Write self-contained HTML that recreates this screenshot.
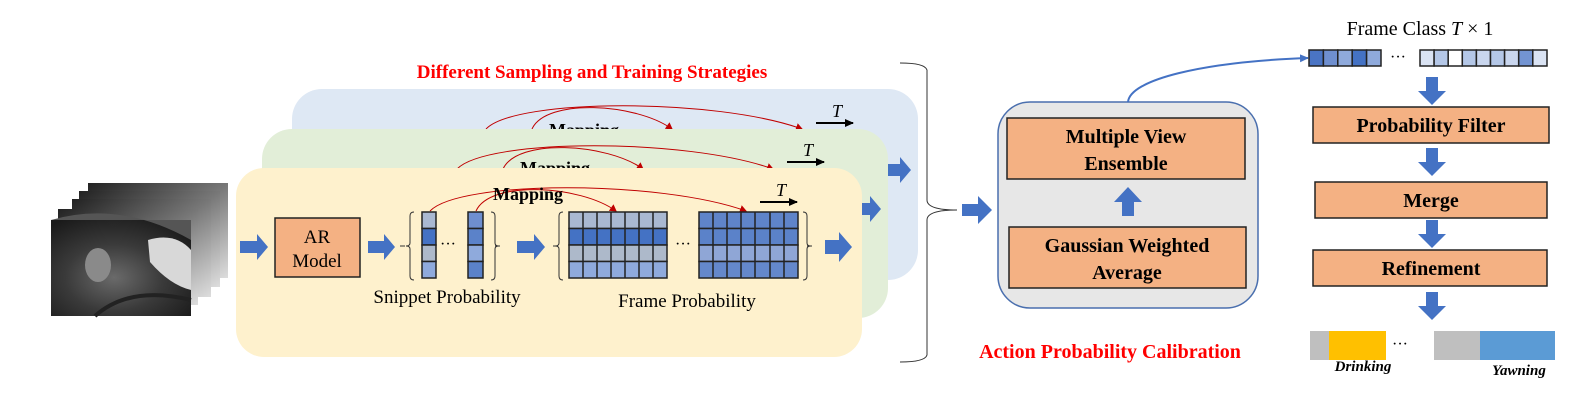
<!DOCTYPE html>
<html><head><meta charset="utf-8"><style>
html,body{margin:0;padding:0;background:#fff;}
svg{display:block;font-family:"Liberation Serif",serif;}
</style></head><body>
<svg width="1590" height="403" viewBox="0 0 1590 403" xmlns="http://www.w3.org/2000/svg">
<defs>
<marker id="ra" markerWidth="8" markerHeight="8" refX="6" refY="4" orient="auto" markerUnits="userSpaceOnUse"><path d="M0,0 L7,4 L0,8 z" fill="#c00000"/></marker>
<marker id="ka" markerWidth="10" markerHeight="10" refX="8" refY="5" orient="auto" markerUnits="userSpaceOnUse"><path d="M0,1 L9,5 L0,9 z" fill="#000"/></marker>
<marker id="ba" markerWidth="10" markerHeight="10" refX="8" refY="5" orient="auto" markerUnits="userSpaceOnUse"><path d="M0,1 L9,5 L0,9 z" fill="#4472c4"/></marker>
<radialGradient id="img" cx="0.45" cy="0.6" r="0.7"><stop offset="0" stop-color="#6a6a6a"/><stop offset="0.5" stop-color="#3a3a3a"/><stop offset="1" stop-color="#1a1a1a"/></radialGradient>
<linearGradient id="img2" x1="0" y1="0" x2="1" y2="1"><stop offset="0" stop-color="#222"/><stop offset="0.5" stop-color="#777"/><stop offset="1" stop-color="#ddd"/></linearGradient>
</defs>

<!-- video frames -->
<rect x="88" y="183" width="140" height="95" fill="url(#img2)"/>
<rect x="79" y="191" width="141" height="96" fill="url(#img2)"/>
<rect x="72" y="199" width="139" height="98" fill="url(#img2)"/>
<rect x="58" y="209" width="140" height="96" fill="url(#img2)"/>
<rect x="51" y="220" width="140" height="96" fill="url(#img)"/>
<path d="M51,220 Q120,200 191,240 L191,220 z" fill="#555"/>
<ellipse cx="98" cy="265" rx="13" ry="17" fill="#8a8a8a"/>
<path d="M148,240 Q175,232 191,250 L191,290 Q170,285 150,262 z" fill="#d8d8d8"/>
<path d="M95,316 Q130,285 191,300" stroke="#222" stroke-width="4" fill="none"/>

<!-- blue panel -->
<rect x="292" y="89" width="626" height="191" rx="30" fill="#dee8f4"/>
<g transform="translate(56,-82)">
<path d="M430,211 C460,180 660,180 746,211" stroke="#c00000" stroke-width="1" fill="none" marker-end="url(#ra)"/>
<path d="M476,211 C490,180 580,185 616,211" stroke="#c00000" stroke-width="1" fill="none" marker-end="url(#ra)"/>
</g>
<text x="584" y="136" font-size="18" font-weight="bold" text-anchor="middle">Mapping</text>
<g transform="translate(56,-79)">
<line x1="760" y1="202" x2="797" y2="202" stroke="#000" stroke-width="2" marker-end="url(#ka)"/>
<text x="776" y="196" font-size="18" font-style="italic">T</text>
</g>
<path d="M888,164 h12 v-7 l11,13 l-11,13 v-7 h-12 z" fill="#4472c4"/>

<!-- green panel -->
<rect x="262" y="129" width="626" height="189" rx="30" fill="#e2eed8"/>
<g transform="translate(27,-42)">
<path d="M430,211 C460,180 660,180 746,211" stroke="#c00000" stroke-width="1" fill="none" marker-end="url(#ra)"/>
<path d="M476,211 C490,180 580,185 616,211" stroke="#c00000" stroke-width="1" fill="none" marker-end="url(#ra)"/>
</g>
<text x="555" y="174" font-size="18" font-weight="bold" text-anchor="middle">Mapping</text>
<g transform="translate(27,-40)">
<line x1="760" y1="202" x2="797" y2="202" stroke="#000" stroke-width="2" marker-end="url(#ka)"/>
<text x="776" y="196" font-size="18" font-style="italic">T</text>
</g>
<path d="M862,203 h8 v-7 l11,13 l-11,13 v-7 h-8 z" fill="#4472c4"/>

<!-- yellow panel -->
<rect x="236" y="168" width="626" height="189" rx="28" fill="#fef1cd"/>
<path d="M430,211 C460,180 660,180 746,211" stroke="#c00000" stroke-width="1" fill="none" marker-end="url(#ra)"/>
<path d="M476,211 C490,180 580,185 616,211" stroke="#c00000" stroke-width="1" fill="none" marker-end="url(#ra)"/>
<text x="528" y="200" font-size="18" font-weight="bold" text-anchor="middle">Mapping</text>
<line x1="760" y1="202" x2="797" y2="202" stroke="#000" stroke-width="2" marker-end="url(#ka)"/>
<text x="776" y="196" font-size="18" font-style="italic">T</text>

<path d="M240,241 h17 v-7 l11,13 l-11,13 v-7 h-17 z" fill="#4472c4"/>
<rect x="275" y="218" width="85" height="59" fill="#f4b183" stroke="#222" stroke-width="1.5"/>
<text x="317" y="243" font-size="19" text-anchor="middle">AR</text>
<text x="317" y="267" font-size="19" text-anchor="middle">Model</text>
<path d="M368,241 h16 v-7 l11,13 l-11,13 v-7 h-16 z" fill="#4472c4"/>

<!-- snippet columns -->
<path d="M400,246 h5 M414,212 q-4,0 -4,4 v27 q0,3 -4,3 q4,0 4,3 v27 q0,4 4,4" stroke="#333" fill="none"/>
<path d="M500,246 h-5 M491,212 q4,0 4,4 v27 q0,3 4,3 q-4,0 -4,3 v27 q0,4 -4,4" stroke="#333" fill="none"/>
<g stroke="#222" stroke-width="1.5">
<rect x="422" y="212" width="14" height="16.5" fill="#a9b8d1"/>
<rect x="422" y="228.5" width="14" height="16.5" fill="#4472c4"/>
<rect x="422" y="245" width="14" height="16.5" fill="#adb9ca"/>
<rect x="422" y="261.5" width="14" height="16.5" fill="#8faadc"/>
<rect x="468" y="212" width="15" height="16.5" fill="#6f8fcf"/>
<rect x="468" y="228.5" width="15" height="16.5" fill="#5b82c9"/>
<rect x="468" y="245" width="15" height="16.5" fill="#8faadc"/>
<rect x="468" y="261.5" width="15" height="16.5" fill="#5b82c9"/>
</g>
<text x="448" y="249" font-size="16" text-anchor="middle">···</text>
<path d="M517,241 h17 v-7 l11,13 l-11,13 v-7 h-17 z" fill="#4472c4"/>

<!-- frame grids -->
<path d="M553,246 h5 M563,212 q-4,0 -4,4 v27 q0,3 -4,3 q4,0 4,3 v27 q0,4 4,4" stroke="#333" fill="none"/>
<path d="M812,246 h-5 M803,212 q4,0 4,4 v27 q0,3 4,3 q-4,0 -4,3 v27 q0,4 -4,4" stroke="#333" fill="none"/>
<g stroke="#222" stroke-width="1.5">
<rect x="569" y="212" width="98" height="16.5" fill="#a9b8d1"/>
<rect x="569" y="228.5" width="98" height="16.5" fill="#4472c4"/>
<rect x="569" y="245" width="98" height="16.5" fill="#adb9ca"/>
<rect x="569" y="261.5" width="98" height="16.5" fill="#8faadc"/>
<path d="M583,212v66M597,212v66M611,212v66M625,212v66M639,212v66M653,212v66" fill="none"/>
<rect x="699" y="212" width="99" height="16.5" fill="#5f84c9"/>
<rect x="699" y="228.5" width="99" height="16.5" fill="#5b82c9"/>
<rect x="699" y="245" width="99" height="16.5" fill="#8fa6d6"/>
<rect x="699" y="261.5" width="99" height="16.5" fill="#6488cb"/>
<path d="M713,212v66M727,212v66M741,212v66M755,212v66M770,212v66M784,212v66" fill="none"/>
</g>
<text x="683" y="249" font-size="16" text-anchor="middle">···</text>
<path d="M825,240 h14 v-8 l13,15 l-13,15 v-8 h-14 z" fill="#4472c4"/>

<text x="447" y="303" font-size="19" text-anchor="middle">Snippet Probability</text>
<text x="687" y="307" font-size="19" text-anchor="middle">Frame Probability</text>

<text x="592" y="78" font-size="19" font-weight="bold" fill="#ff0000" text-anchor="middle">Different Sampling and Training Strategies</text>

<!-- brace -->
<path d="M900,63 Q925,63 927,70 L927,200 Q927,210 957,210 Q927,210 927,220 L927,355 Q925,362 900,362" stroke="#333" stroke-width="1" fill="none"/>
<path d="M962,204 h16 v-8 l14,14 l-14,14 v-8 h-16 z" fill="#4472c4"/>

<!-- ensemble box -->
<rect x="998" y="102" width="260" height="206" rx="32" fill="#e7e7e7" stroke="#4a6fae" stroke-width="1.5"/>
<rect x="1007" y="118" width="238" height="61" fill="#f4b183" stroke="#222" stroke-width="1.5"/>
<text x="1126" y="143" font-size="20" font-weight="bold" text-anchor="middle">Multiple View</text>
<text x="1126" y="170" font-size="20" font-weight="bold" text-anchor="middle">Ensemble</text>
<path d="M1122,216 v-14 h-8 l14,-15 l14,15 h-8 v14 z" fill="#4472c4"/>
<rect x="1009" y="227" width="237" height="61" fill="#f4b183" stroke="#222" stroke-width="1.5"/>
<text x="1127" y="252" font-size="20" font-weight="bold" text-anchor="middle">Gaussian Weighted</text>
<text x="1127" y="279" font-size="20" font-weight="bold" text-anchor="middle">Average</text>
<path d="M1128,102 C1130,80 1200,62 1308,58" stroke="#4472c4" stroke-width="2" fill="none" marker-end="url(#ba)"/>
<text x="1110" y="358" font-size="20" font-weight="bold" fill="#ff0000" text-anchor="middle">Action Probability Calibration</text>

<!-- right column -->
<text x="1420" y="35" font-size="20" text-anchor="middle">Frame Class <tspan font-style="italic">T</tspan> × 1</text>
<g stroke="#222" stroke-width="1.5">
<rect x="1309" y="50" width="14.4" height="16" fill="#4a74c4"/>
<rect x="1323.4" y="50" width="14.4" height="16" fill="#6f8fcf"/>
<rect x="1337.8" y="50" width="14.4" height="16" fill="#8faadc"/>
<rect x="1352.2" y="50" width="14.4" height="16" fill="#4472c4"/>
<rect x="1366.6" y="50" width="14.4" height="16" fill="#8faadc"/>
<rect x="1420" y="50" width="14.1" height="16" fill="#dae3f3"/>
<rect x="1434.1" y="50" width="14.1" height="16" fill="#b4c7e7"/>
<rect x="1448.2" y="50" width="14.1" height="16" fill="#ffffff"/>
<rect x="1462.3" y="50" width="14.1" height="16" fill="#b4c7e7"/>
<rect x="1476.4" y="50" width="14.1" height="16" fill="#c9d6ee"/>
<rect x="1490.5" y="50" width="14.1" height="16" fill="#b4c7e7"/>
<rect x="1504.6" y="50" width="14.1" height="16" fill="#c9d6ee"/>
<rect x="1518.7" y="50" width="14.1" height="16" fill="#7394d2"/>
<rect x="1532.8" y="50" width="14.2" height="16" fill="#dae3f3"/>
</g>
<text x="1398" y="62" font-size="16" text-anchor="middle">···</text>

<path d="M1426,77 h12 v14 h8 l-14,14 l-14,-14 h8 z" fill="#4472c4"/>
<rect x="1313" y="107" width="236" height="36" fill="#f4b183" stroke="#222" stroke-width="1.5"/>
<text x="1431" y="132" font-size="20" font-weight="bold" text-anchor="middle">Probability Filter</text>
<path d="M1426,148 h12 v14 h8 l-14,14 l-14,-14 h8 z" fill="#4472c4"/>
<rect x="1315" y="182" width="232" height="36" fill="#f4b183" stroke="#222" stroke-width="1.5"/>
<text x="1431" y="207" font-size="20" font-weight="bold" text-anchor="middle">Merge</text>
<path d="M1426,220 h12 v14 h8 l-14,14 l-14,-14 h8 z" fill="#4472c4"/>
<rect x="1313" y="250" width="234" height="36" fill="#f4b183" stroke="#222" stroke-width="1.5"/>
<text x="1431" y="275" font-size="20" font-weight="bold" text-anchor="middle">Refinement</text>
<path d="M1426,292 h12 v14 h8 l-14,14 l-14,-14 h8 z" fill="#4472c4"/>

<rect x="1310" y="331" width="19" height="29" fill="#bfbfbf"/>
<rect x="1329" y="331" width="57" height="29" fill="#ffc000"/>
<text x="1400" y="349" font-size="16" text-anchor="middle">···</text>
<rect x="1434" y="331" width="46" height="29" fill="#bfbfbf"/>
<rect x="1480" y="331" width="75" height="29" fill="#5b9bd5"/>
<text x="1363" y="371" font-size="15" font-weight="bold" font-style="italic" text-anchor="middle">Drinking</text>
<text x="1519" y="375" font-size="15" font-weight="bold" font-style="italic" text-anchor="middle">Yawning</text>
</svg>
</body></html>
